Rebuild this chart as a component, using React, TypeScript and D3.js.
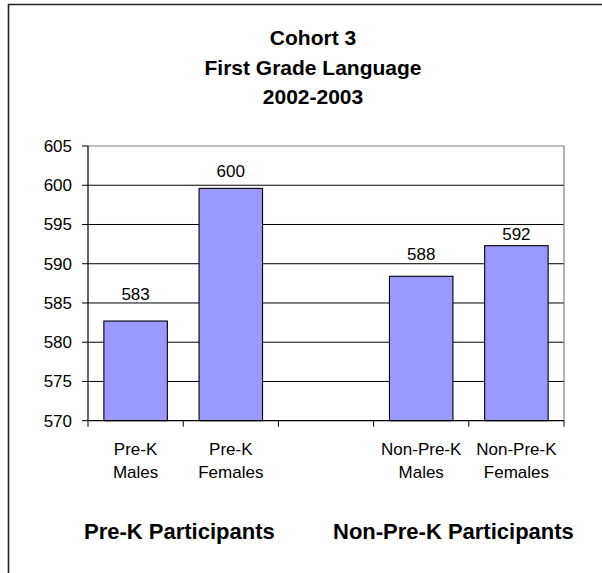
import React from "react";
import * as d3 from "d3";

// Category slots along the x axis; the empty slot separates the two groups.
const categories = ["pkM", "pkF", "gap", "npkM", "npkF"];
const categoryLines: string[][] = [
  ["Pre-K", "Males"],
  ["Pre-K", "Females"],
  [],
  ["Non-Pre-K", "Males"],
  ["Non-Pre-K", "Females"],
];
const scores: (number | null)[] = [582.7, 599.6, null, 588.4, 592.3];
const scoreLabels: string[] = ["583", "600", "", "588", "592"];
const yTicks = [570, 575, 580, 585, 590, 595, 600, 605];
const titleLines = ["Cohort 3", "First Grade Language", "2002-2003"];
const groupNames = ["Pre-K Participants", "Non-Pre-K Participants"];

const W = 602;
const H = 573;
const plot = { left: 88, right: 564, top: 146, bottom: 420.7 };
const FONT = "'Liberation Sans', Arial, Helvetica, sans-serif";
// hand-placed lift of each value label above its bar
const labelLift = [21, 11.5, 0, 16, 5.5];

export default function App() {
  const x = d3
    .scaleBand<string>()
    .domain(categories)
    .range([plot.left, plot.right])
    .paddingInner(1 / 3)
    .paddingOuter(1 / 6);
  const y = d3.scaleLinear().domain([570, 605]).range([plot.bottom, plot.top]);
  const step = x.step();
  const boundaries = d3.range(categories.length + 1).map((i) => plot.left + i * step);

  return (
    <svg
      width={W}
      height={H}
      style={{ position: "absolute", left: 0, top: 0, background: "#fff" }}
      fontFamily={FONT}
    >
      <rect x={0} y={0} width={W} height={H} fill="#fff" />
      {/* chart frame (only top and left edges fall inside the view) */}
      <path d={`M8.5,${H} V4.5 H${W}`} fill="none" stroke="#222" strokeWidth={1.6} />

      {/* title */}
      {titleLines.map((t, i) => (
        <text
          key={t}
          x={313}
          y={45 + i * 29.5}
          textAnchor="middle"
          fontSize={21}
          fontWeight="bold"
          fill="#000"
        >
          {t}
        </text>
      ))}

      {/* gridlines */}
      {yTicks.slice(1, -1).map((v) => (
        <line key={v} x1={plot.left} x2={plot.right} y1={y(v)} y2={y(v)} stroke="#000" strokeWidth={1} />
      ))}
      {/* plot border: top and right */}
      <path
        d={`M${plot.left},${y(605)} H${plot.right} V${plot.bottom}`}
        fill="none"
        stroke="#808080"
        strokeWidth={1.2}
      />

      {/* bars */}
      {categories.map((c, i) => {
        const v = scores[i];
        if (v == null) return null;
        return (
          <rect
            key={c}
            x={x(c)}
            y={y(v)}
            width={x.bandwidth()}
            height={y(570) - y(v)}
            fill="#9999FF"
            stroke="#000"
            strokeWidth={1.1}
          />
        );
      })}

      {/* value labels */}
      {categories.map((c, i) => {
        const v = scores[i];
        if (v == null) return null;
        return (
          <text
            key={c}
            x={(x(c) as number) + x.bandwidth() / 2}
            y={y(v) - labelLift[i]}
            textAnchor="middle"
            fontSize={17}
            fill="#000"
          >
            {scoreLabels[i]}
          </text>
        );
      })}

      {/* axes */}
      <line x1={plot.left} x2={plot.left} y1={y(605)} y2={plot.bottom} stroke="#000" strokeWidth={1.2} />
      <line x1={plot.left} x2={plot.right} y1={plot.bottom} y2={plot.bottom} stroke="#000" strokeWidth={1.2} />
      {yTicks.map((v) => (
        <g key={v}>
          <line x1={plot.left - 6} x2={plot.left} y1={y(v)} y2={y(v)} stroke="#000" strokeWidth={1} />
          <text x={72} y={y(v)} dy="0.35em" textAnchor="end" fontSize={17} fill="#000">
            {v}
          </text>
        </g>
      ))}
      {boundaries.map((bx, i) => (
        <line key={i} x1={bx} x2={bx} y1={plot.bottom} y2={plot.bottom + 6} stroke="#000" strokeWidth={1} />
      ))}

      {/* category labels */}
      {categories.map((c, i) =>
        categoryLines[i].map((line, j) => (
          <text
            key={c + j}
            x={(x(c) as number) + x.bandwidth() / 2}
            y={455 + j * 23.3}
            textAnchor="middle"
            fontSize={17}
            fill="#000"
          >
            {line}
          </text>
        ))
      )}

      {/* group labels */}
      <text x={84} y={538.5} fontSize={22} fontWeight="bold" fill="#000">
        {groupNames[0]}
      </text>
      <text x={333} y={538.5} fontSize={22} fontWeight="bold" fill="#000">
        {groupNames[1]}
      </text>
    </svg>
  );
}
